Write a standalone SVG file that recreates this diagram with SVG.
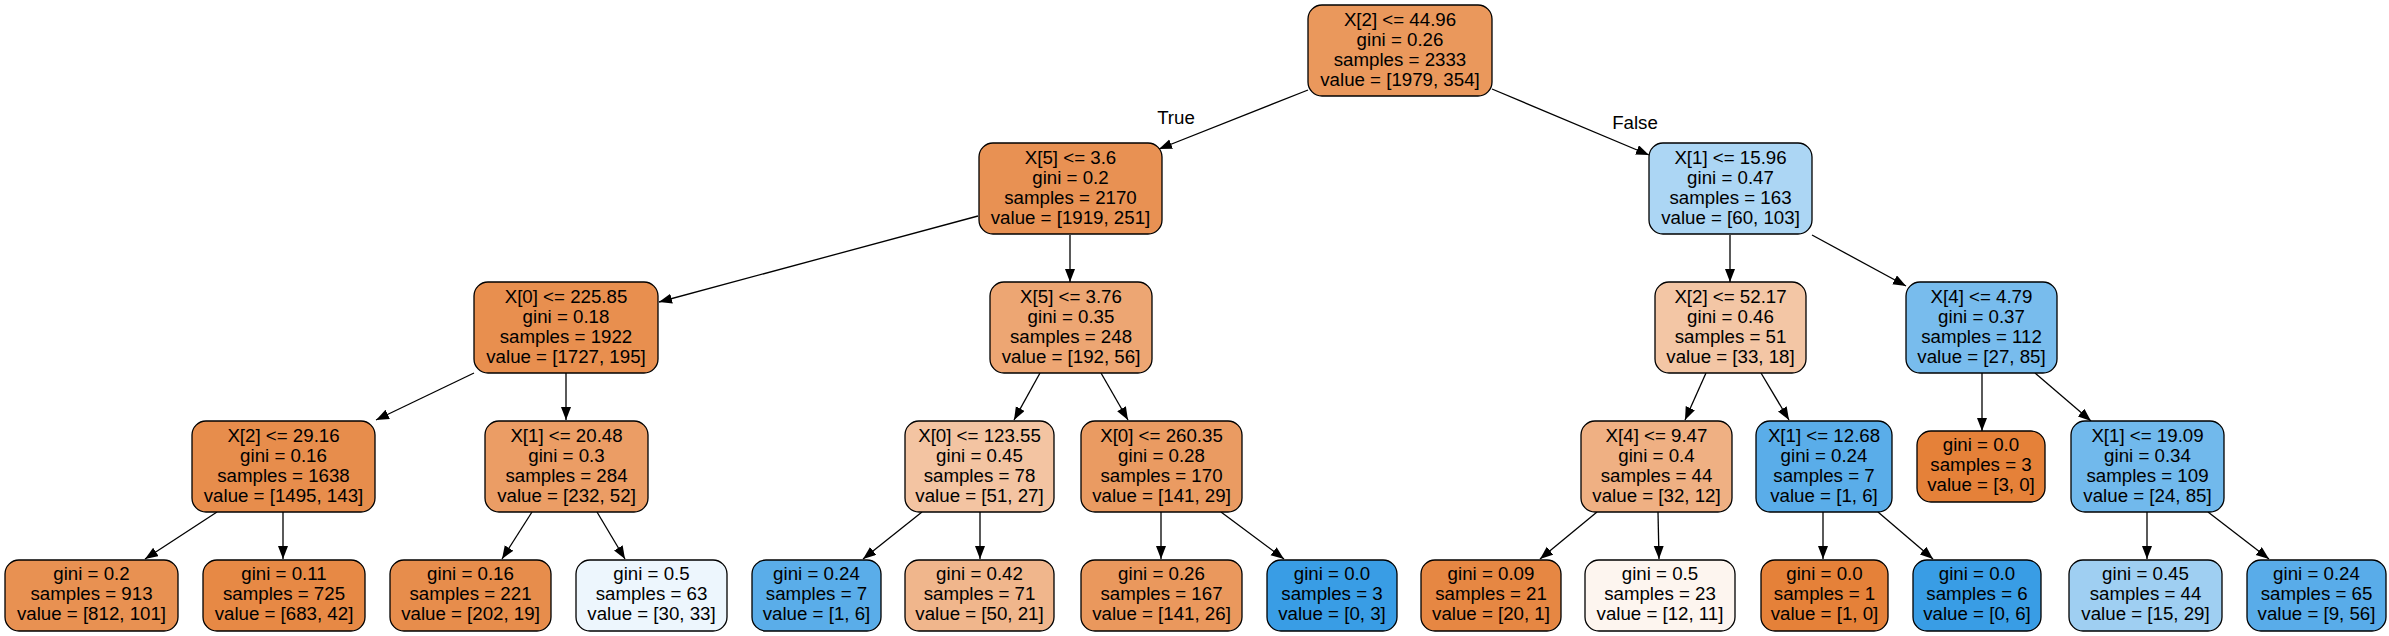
<svg xmlns="http://www.w3.org/2000/svg" width="2389" height="636" viewBox="0 0 2389 636">
<style>
.n rect{stroke:#000;stroke-width:1.3}
text{font-family:"Liberation Sans",Arial,Helvetica,sans-serif;font-size:18.7px;fill:#000;text-anchor:middle}
.e line{stroke:#000;stroke-width:1.3;marker-end:url(#ah)}
</style>
<defs>
<marker id="ah" markerUnits="userSpaceOnUse" markerWidth="14" markerHeight="11" refX="13" refY="5" orient="auto">
<path d="M0,0 L13,5 L0,10 z" fill="#000"/>
</marker>
</defs>
<rect width="2389" height="636" fill="#fff"/>
<g id="edges" class="e">
<line x1="1308" y1="90" x2="1159" y2="149"/>
<line x1="1492" y1="89" x2="1649" y2="155"/>
<line x1="978" y1="216" x2="659" y2="302"/>
<line x1="1070" y1="235" x2="1070" y2="282"/>
<line x1="1730" y1="235" x2="1730" y2="282"/>
<line x1="1812" y1="235" x2="1906" y2="286"/>
<line x1="474" y1="373" x2="376" y2="420"/>
<line x1="566" y1="373" x2="566" y2="420"/>
<line x1="1040" y1="373" x2="1014" y2="420"/>
<line x1="1101" y1="373" x2="1128" y2="420"/>
<line x1="1706" y1="373" x2="1685" y2="420"/>
<line x1="1761" y1="373" x2="1789" y2="420"/>
<line x1="1982" y1="373" x2="1982" y2="431"/>
<line x1="2035" y1="373" x2="2091" y2="421"/>
<line x1="217" y1="512" x2="145" y2="559"/>
<line x1="283" y1="512" x2="283" y2="559"/>
<line x1="532" y1="512" x2="502" y2="559"/>
<line x1="597" y1="512" x2="625" y2="559"/>
<line x1="922" y1="512" x2="863" y2="559"/>
<line x1="980" y1="512" x2="980" y2="559"/>
<line x1="1161" y1="512" x2="1161" y2="559"/>
<line x1="1221" y1="512" x2="1284" y2="559"/>
<line x1="1597" y1="512" x2="1540" y2="559"/>
<line x1="1658" y1="512" x2="1659" y2="559"/>
<line x1="1823" y1="512" x2="1823" y2="559"/>
<line x1="1878" y1="512" x2="1933" y2="559"/>
<line x1="2147" y1="512" x2="2147" y2="559"/>
<line x1="2208" y1="512" x2="2269" y2="559"/>
</g>
<text x="1176" y="124">True</text>
<text x="1635" y="129">False</text>

<g id="n0" class="n"><rect x="1308" y="5" width="184" height="91" rx="14" fill="#ea985c"/>
<text x="1400" y="25.5">X[2] &lt;= 44.96</text><text x="1400" y="45.5">gini = 0.26</text><text x="1400" y="65.5">samples = 2333</text><text x="1400" y="85.5">value = [1979, 354]</text></g>

<g id="n1" class="n"><rect x="979" y="143" width="183" height="91" rx="14" fill="#e89153"/>
<text x="1070.5" y="163.5">X[5] &lt;= 3.6</text><text x="1070.5" y="183.5">gini = 0.2</text><text x="1070.5" y="203.5">samples = 2170</text><text x="1070.5" y="223.5">value = [1919, 251]</text></g>

<g id="n2" class="n"><rect x="1649" y="143" width="163" height="91" rx="14" fill="#acd6f4"/>
<text x="1730.5" y="163.5">X[1] &lt;= 15.96</text><text x="1730.5" y="183.5">gini = 0.47</text><text x="1730.5" y="203.5">samples = 163</text><text x="1730.5" y="223.5">value = [60, 103]</text></g>

<g id="n3" class="n"><rect x="474" y="282" width="184" height="91" rx="14" fill="#e88f4f"/>
<text x="566" y="302.5">X[0] &lt;= 225.85</text><text x="566" y="322.5">gini = 0.18</text><text x="566" y="342.5">samples = 1922</text><text x="566" y="362.5">value = [1727, 195]</text></g>

<g id="n4" class="n"><rect x="990" y="282" width="162" height="91" rx="14" fill="#eda673"/>
<text x="1071" y="302.5">X[5] &lt;= 3.76</text><text x="1071" y="322.5">gini = 0.35</text><text x="1071" y="342.5">samples = 248</text><text x="1071" y="362.5">value = [192, 56]</text></g>

<g id="n5" class="n"><rect x="1655" y="282" width="151" height="91" rx="14" fill="#f3c6a5"/>
<text x="1730.5" y="302.5">X[2] &lt;= 52.17</text><text x="1730.5" y="322.5">gini = 0.46</text><text x="1730.5" y="342.5">samples = 51</text><text x="1730.5" y="362.5">value = [33, 18]</text></g>

<g id="n6" class="n"><rect x="1906" y="282" width="151" height="91" rx="14" fill="#78bced"/>
<text x="1981.5" y="302.5">X[4] &lt;= 4.79</text><text x="1981.5" y="322.5">gini = 0.37</text><text x="1981.5" y="342.5">samples = 112</text><text x="1981.5" y="362.5">value = [27, 85]</text></g>

<g id="n7" class="n"><rect x="192" y="421" width="183" height="91" rx="14" fill="#e78d4c"/>
<text x="283.5" y="441.5">X[2] &lt;= 29.16</text><text x="283.5" y="461.5">gini = 0.16</text><text x="283.5" y="481.5">samples = 1638</text><text x="283.5" y="501.5">value = [1495, 143]</text></g>

<g id="n8" class="n"><rect x="485" y="421" width="163" height="91" rx="14" fill="#eb9d65"/>
<text x="566.5" y="441.5">X[1] &lt;= 20.48</text><text x="566.5" y="461.5">gini = 0.3</text><text x="566.5" y="481.5">samples = 284</text><text x="566.5" y="501.5">value = [232, 52]</text></g>

<g id="n9" class="n"><rect x="905" y="421" width="149" height="91" rx="14" fill="#f3c4a2"/>
<text x="979.5" y="441.5">X[0] &lt;= 123.55</text><text x="979.5" y="461.5">gini = 0.45</text><text x="979.5" y="481.5">samples = 78</text><text x="979.5" y="501.5">value = [51, 27]</text></g>

<g id="n10" class="n"><rect x="1081" y="421" width="161" height="91" rx="14" fill="#ea9b62"/>
<text x="1161.5" y="441.5">X[0] &lt;= 260.35</text><text x="1161.5" y="461.5">gini = 0.28</text><text x="1161.5" y="481.5">samples = 170</text><text x="1161.5" y="501.5">value = [141, 29]</text></g>

<g id="n11" class="n"><rect x="1581" y="421" width="151" height="91" rx="14" fill="#efb083"/>
<text x="1656.5" y="441.5">X[4] &lt;= 9.47</text><text x="1656.5" y="461.5">gini = 0.4</text><text x="1656.5" y="481.5">samples = 44</text><text x="1656.5" y="501.5">value = [32, 12]</text></g>

<g id="n12" class="n"><rect x="1756" y="421" width="136" height="91" rx="14" fill="#5aade9"/>
<text x="1824" y="441.5">X[1] &lt;= 12.68</text><text x="1824" y="461.5">gini = 0.24</text><text x="1824" y="481.5">samples = 7</text><text x="1824" y="501.5">value = [1, 6]</text></g>

<g id="n13" class="n"><rect x="1917" y="431" width="128" height="71" rx="14" fill="#e58139"/>
<text x="1981" y="450.5">gini = 0.0</text><text x="1981" y="470.5">samples = 3</text><text x="1981" y="490.5">value = [3, 0]</text></g>

<g id="n14" class="n"><rect x="2071" y="421" width="153" height="91" rx="14" fill="#71b9ec"/>
<text x="2147.5" y="441.5">X[1] &lt;= 19.09</text><text x="2147.5" y="461.5">gini = 0.34</text><text x="2147.5" y="481.5">samples = 109</text><text x="2147.5" y="501.5">value = [24, 85]</text></g>

<g id="n15" class="n"><rect x="5" y="560" width="173" height="71" rx="14" fill="#e89152"/>
<text x="91.5" y="579.5">gini = 0.2</text><text x="91.5" y="599.5">samples = 913</text><text x="91.5" y="619.5">value = [812, 101]</text></g>

<g id="n16" class="n"><rect x="203" y="560" width="162" height="71" rx="14" fill="#e78945"/>
<text x="284" y="579.5">gini = 0.11</text><text x="284" y="599.5">samples = 725</text><text x="284" y="619.5">value = [683, 42]</text></g>

<g id="n17" class="n"><rect x="390" y="560" width="161" height="71" rx="14" fill="#e78d4c"/>
<text x="470.5" y="579.5">gini = 0.16</text><text x="470.5" y="599.5">samples = 221</text><text x="470.5" y="619.5">value = [202, 19]</text></g>

<g id="n18" class="n"><rect x="576" y="560" width="151" height="71" rx="14" fill="#edf6fd"/>
<text x="651.5" y="579.5">gini = 0.5</text><text x="651.5" y="599.5">samples = 63</text><text x="651.5" y="619.5">value = [30, 33]</text></g>

<g id="n19" class="n"><rect x="752" y="560" width="129" height="71" rx="14" fill="#5aade9"/>
<text x="816.5" y="579.5">gini = 0.24</text><text x="816.5" y="599.5">samples = 7</text><text x="816.5" y="619.5">value = [1, 6]</text></g>

<g id="n20" class="n"><rect x="905" y="560" width="149" height="71" rx="14" fill="#f0b68c"/>
<text x="979.5" y="579.5">gini = 0.42</text><text x="979.5" y="599.5">samples = 71</text><text x="979.5" y="619.5">value = [50, 21]</text></g>

<g id="n21" class="n"><rect x="1081" y="560" width="161" height="71" rx="14" fill="#ea985d"/>
<text x="1161.5" y="579.5">gini = 0.26</text><text x="1161.5" y="599.5">samples = 167</text><text x="1161.5" y="619.5">value = [141, 26]</text></g>

<g id="n22" class="n"><rect x="1267" y="560" width="130" height="71" rx="14" fill="#399de5"/>
<text x="1332" y="579.5">gini = 0.0</text><text x="1332" y="599.5">samples = 3</text><text x="1332" y="619.5">value = [0, 3]</text></g>

<g id="n23" class="n"><rect x="1421" y="560" width="140" height="71" rx="14" fill="#e68743"/>
<text x="1491" y="579.5">gini = 0.09</text><text x="1491" y="599.5">samples = 21</text><text x="1491" y="619.5">value = [20, 1]</text></g>

<g id="n24" class="n"><rect x="1585" y="560" width="150" height="71" rx="14" fill="#fdf5ef"/>
<text x="1660" y="579.5">gini = 0.5</text><text x="1660" y="599.5">samples = 23</text><text x="1660" y="619.5">value = [12, 11]</text></g>

<g id="n25" class="n"><rect x="1761" y="560" width="127" height="71" rx="14" fill="#e58139"/>
<text x="1824.5" y="579.5">gini = 0.0</text><text x="1824.5" y="599.5">samples = 1</text><text x="1824.5" y="619.5">value = [1, 0]</text></g>

<g id="n26" class="n"><rect x="1913" y="560" width="128" height="71" rx="14" fill="#399de5"/>
<text x="1977" y="579.5">gini = 0.0</text><text x="1977" y="599.5">samples = 6</text><text x="1977" y="619.5">value = [0, 6]</text></g>

<g id="n27" class="n"><rect x="2069" y="560" width="153" height="71" rx="14" fill="#9fcff2"/>
<text x="2145.5" y="579.5">gini = 0.45</text><text x="2145.5" y="599.5">samples = 44</text><text x="2145.5" y="619.5">value = [15, 29]</text></g>

<g id="n28" class="n"><rect x="2247" y="560" width="139" height="71" rx="14" fill="#59ace9"/>
<text x="2316.5" y="579.5">gini = 0.24</text><text x="2316.5" y="599.5">samples = 65</text><text x="2316.5" y="619.5">value = [9, 56]</text></g>
</svg>
